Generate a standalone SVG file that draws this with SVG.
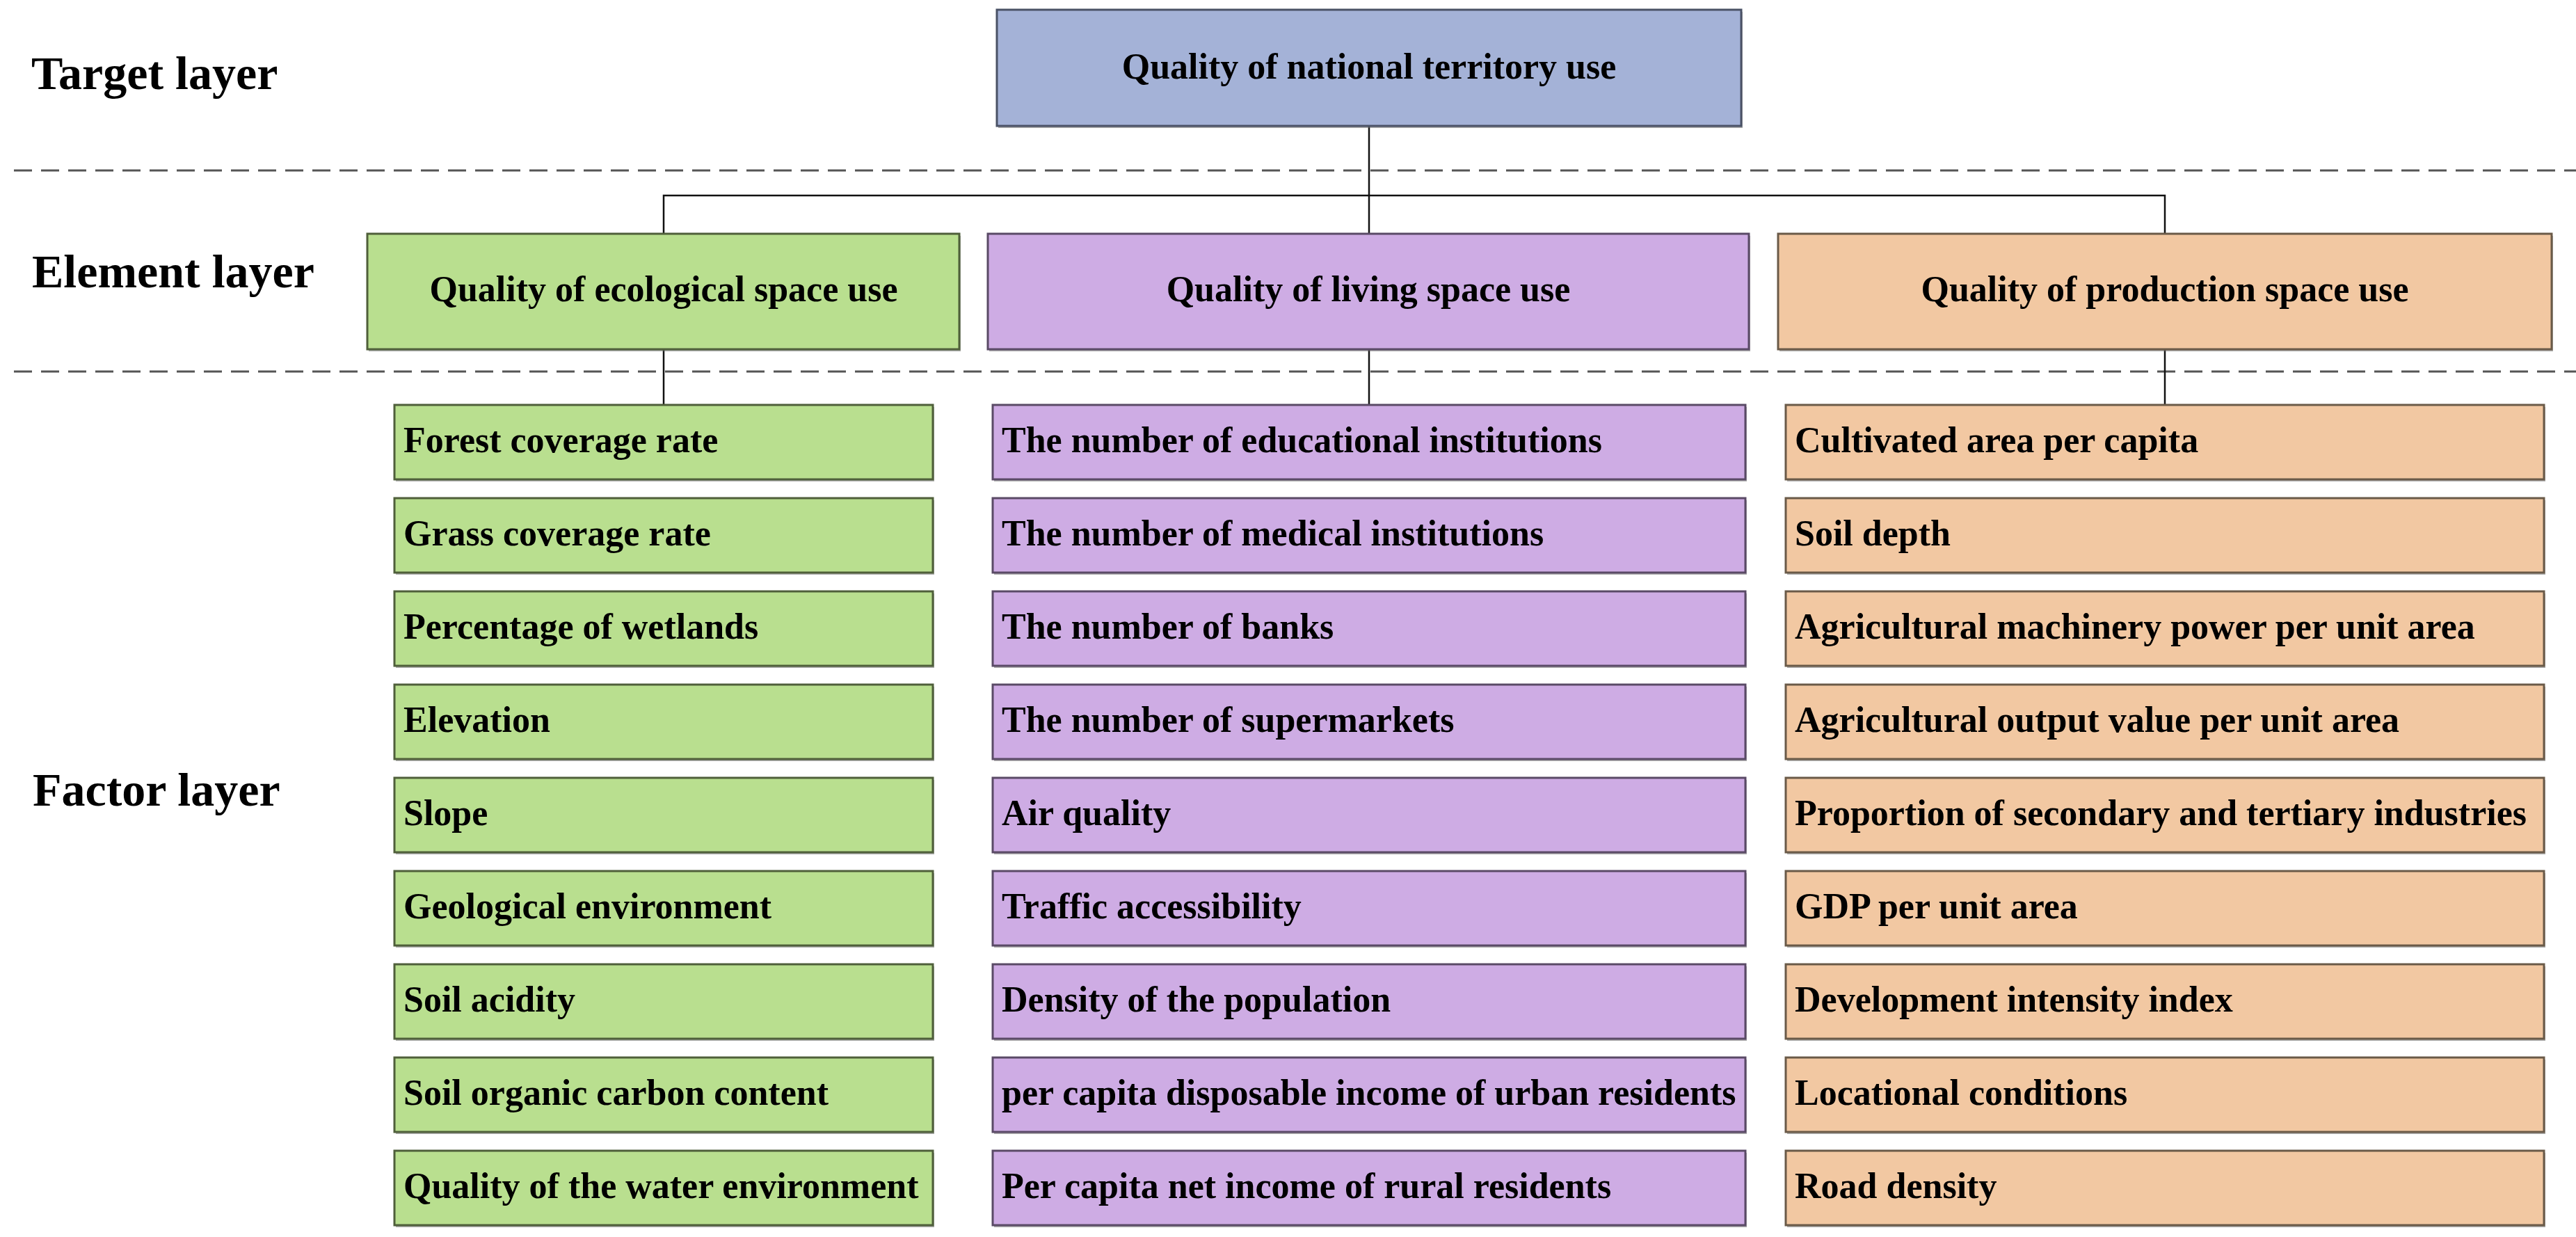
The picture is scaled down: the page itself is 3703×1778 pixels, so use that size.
<svg xmlns="http://www.w3.org/2000/svg" width="3703" height="1778" viewBox="0 0 3703 1778">
<style>
text{font-family:"Liberation Serif","Times New Roman",serif;font-weight:bold;fill:#000}
.lbl{font-size:68px}
.t{font-size:52px}
.c{text-anchor:middle}
.sh{fill:#6b6b6b;opacity:0.55}
.g{fill:#B9DF8F;stroke:#4F5F3A;stroke-width:3}
.p{fill:#CEACE4;stroke:#5A4A66;stroke-width:3}
.o{fill:#F2C8A2;stroke:#6A5A48;stroke-width:3}
.b{fill:#A4B2D7;stroke:#4A5266;stroke-width:3}
.dash{stroke:#555;stroke-width:3;stroke-dasharray:26 13;fill:none}
.con{stroke:#111;stroke-width:2.5;fill:none}
</style>
<rect width="3703" height="1778" fill="#fff"/>
<g id="layer-labels">
<text class="lbl" x="45" y="128">Target layer</text>
<text class="lbl" x="46" y="413">Element layer</text>
<text class="lbl" x="47" y="1158">Factor layer</text>
</g>
<g id="separators">
<line class="dash" x1="20" y1="245" x2="3703" y2="245"/>
<line class="dash" x1="20" y1="534" x2="3703" y2="534"/>
</g>
<g id="connectors">
<line class="con" x1="1968" y1="181" x2="1968" y2="336"/>
<polyline class="con" points="954,336 954,281 3112,281 3112,336"/>
<line class="con" x1="954" y1="502" x2="954" y2="582"/>
<line class="con" x1="1968" y1="502" x2="1968" y2="582"/>
<line class="con" x1="3112" y1="502" x2="3112" y2="582"/>
</g>
<g id="target">
<rect class="sh" x="1435" y="17" width="1070" height="167"/>
<rect class="b" x="1433" y="14" width="1070" height="167"/>
<text class="t c" x="1968" y="113">Quality of national territory use</text>
</g>
<g id="element-ecological">
<rect class="sh" x="530" y="339" width="851" height="166"/>
<rect class="g" x="528" y="336" width="851" height="166"/>
<text class="t c" x="954" y="433">Quality of ecological space use</text>
</g>
<g id="element-living">
<rect class="sh" x="1422" y="339" width="1094" height="166"/>
<rect class="p" x="1420" y="336" width="1094" height="166"/>
<text class="t c" x="1967" y="433">Quality of living space use</text>
</g>
<g id="element-production">
<rect class="sh" x="2558" y="339" width="1112" height="166"/>
<rect class="o" x="2556" y="336" width="1112" height="166"/>
<text class="t c" x="3112" y="433">Quality of production space use</text>
</g>
<g id="factors-ecological">
<g id="f-eco-1"><rect class="sh" x="569" y="585" width="774" height="107"/><rect class="g" x="567" y="582" width="774" height="107"/><text class="t" x="580" y="650">Forest coverage rate</text></g>
<g id="f-eco-2"><rect class="sh" x="569" y="719" width="774" height="107"/><rect class="g" x="567" y="716" width="774" height="107"/><text class="t" x="580" y="784">Grass coverage rate</text></g>
<g id="f-eco-3"><rect class="sh" x="569" y="853" width="774" height="107"/><rect class="g" x="567" y="850" width="774" height="107"/><text class="t" x="580" y="918">Percentage of wetlands</text></g>
<g id="f-eco-4"><rect class="sh" x="569" y="987" width="774" height="107"/><rect class="g" x="567" y="984" width="774" height="107"/><text class="t" x="580" y="1052">Elevation</text></g>
<g id="f-eco-5"><rect class="sh" x="569" y="1121" width="774" height="107"/><rect class="g" x="567" y="1118" width="774" height="107"/><text class="t" x="580" y="1186">Slope</text></g>
<g id="f-eco-6"><rect class="sh" x="569" y="1255" width="774" height="107"/><rect class="g" x="567" y="1252" width="774" height="107"/><text class="t" x="580" y="1320">Geological environment</text></g>
<g id="f-eco-7"><rect class="sh" x="569" y="1389" width="774" height="107"/><rect class="g" x="567" y="1386" width="774" height="107"/><text class="t" x="580" y="1454">Soil acidity</text></g>
<g id="f-eco-8"><rect class="sh" x="569" y="1523" width="774" height="107"/><rect class="g" x="567" y="1520" width="774" height="107"/><text class="t" x="580" y="1588">Soil organic carbon content</text></g>
<g id="f-eco-9"><rect class="sh" x="569" y="1657" width="774" height="107"/><rect class="g" x="567" y="1654" width="774" height="107"/><text class="t" x="580" y="1722">Quality of the water environment</text></g>
</g>
<g id="factors-living">
<g id="f-liv-1"><rect class="sh" x="1429" y="585" width="1082" height="107"/><rect class="p" x="1427" y="582" width="1082" height="107"/><text class="t" x="1440" y="650">The number of educational institutions</text></g>
<g id="f-liv-2"><rect class="sh" x="1429" y="719" width="1082" height="107"/><rect class="p" x="1427" y="716" width="1082" height="107"/><text class="t" x="1440" y="784">The number of medical institutions</text></g>
<g id="f-liv-3"><rect class="sh" x="1429" y="853" width="1082" height="107"/><rect class="p" x="1427" y="850" width="1082" height="107"/><text class="t" x="1440" y="918">The number of banks</text></g>
<g id="f-liv-4"><rect class="sh" x="1429" y="987" width="1082" height="107"/><rect class="p" x="1427" y="984" width="1082" height="107"/><text class="t" x="1440" y="1052">The number of supermarkets</text></g>
<g id="f-liv-5"><rect class="sh" x="1429" y="1121" width="1082" height="107"/><rect class="p" x="1427" y="1118" width="1082" height="107"/><text class="t" x="1440" y="1186">Air quality</text></g>
<g id="f-liv-6"><rect class="sh" x="1429" y="1255" width="1082" height="107"/><rect class="p" x="1427" y="1252" width="1082" height="107"/><text class="t" x="1440" y="1320">Traffic accessibility</text></g>
<g id="f-liv-7"><rect class="sh" x="1429" y="1389" width="1082" height="107"/><rect class="p" x="1427" y="1386" width="1082" height="107"/><text class="t" x="1440" y="1454">Density of the population</text></g>
<g id="f-liv-8"><rect class="sh" x="1429" y="1523" width="1082" height="107"/><rect class="p" x="1427" y="1520" width="1082" height="107"/><text class="t" x="1440" y="1588">per capita disposable income of urban residents</text></g>
<g id="f-liv-9"><rect class="sh" x="1429" y="1657" width="1082" height="107"/><rect class="p" x="1427" y="1654" width="1082" height="107"/><text class="t" x="1440" y="1722">Per capita net income of rural residents</text></g>
</g>
<g id="factors-production">
<g id="f-pro-1"><rect class="sh" x="2569" y="585" width="1090" height="107"/><rect class="o" x="2567" y="582" width="1090" height="107"/><text class="t" x="2580" y="650">Cultivated area per capita</text></g>
<g id="f-pro-2"><rect class="sh" x="2569" y="719" width="1090" height="107"/><rect class="o" x="2567" y="716" width="1090" height="107"/><text class="t" x="2580" y="784">Soil depth</text></g>
<g id="f-pro-3"><rect class="sh" x="2569" y="853" width="1090" height="107"/><rect class="o" x="2567" y="850" width="1090" height="107"/><text class="t" x="2580" y="918">Agricultural machinery power per unit area</text></g>
<g id="f-pro-4"><rect class="sh" x="2569" y="987" width="1090" height="107"/><rect class="o" x="2567" y="984" width="1090" height="107"/><text class="t" x="2580" y="1052">Agricultural output value per unit area</text></g>
<g id="f-pro-5"><rect class="sh" x="2569" y="1121" width="1090" height="107"/><rect class="o" x="2567" y="1118" width="1090" height="107"/><text class="t" x="2580" y="1186">Proportion of secondary and tertiary industries</text></g>
<g id="f-pro-6"><rect class="sh" x="2569" y="1255" width="1090" height="107"/><rect class="o" x="2567" y="1252" width="1090" height="107"/><text class="t" x="2580" y="1320">GDP per unit area</text></g>
<g id="f-pro-7"><rect class="sh" x="2569" y="1389" width="1090" height="107"/><rect class="o" x="2567" y="1386" width="1090" height="107"/><text class="t" x="2580" y="1454">Development intensity index</text></g>
<g id="f-pro-8"><rect class="sh" x="2569" y="1523" width="1090" height="107"/><rect class="o" x="2567" y="1520" width="1090" height="107"/><text class="t" x="2580" y="1588">Locational conditions</text></g>
<g id="f-pro-9"><rect class="sh" x="2569" y="1657" width="1090" height="107"/><rect class="o" x="2567" y="1654" width="1090" height="107"/><text class="t" x="2580" y="1722">Road density</text></g>
</g>
</svg>
